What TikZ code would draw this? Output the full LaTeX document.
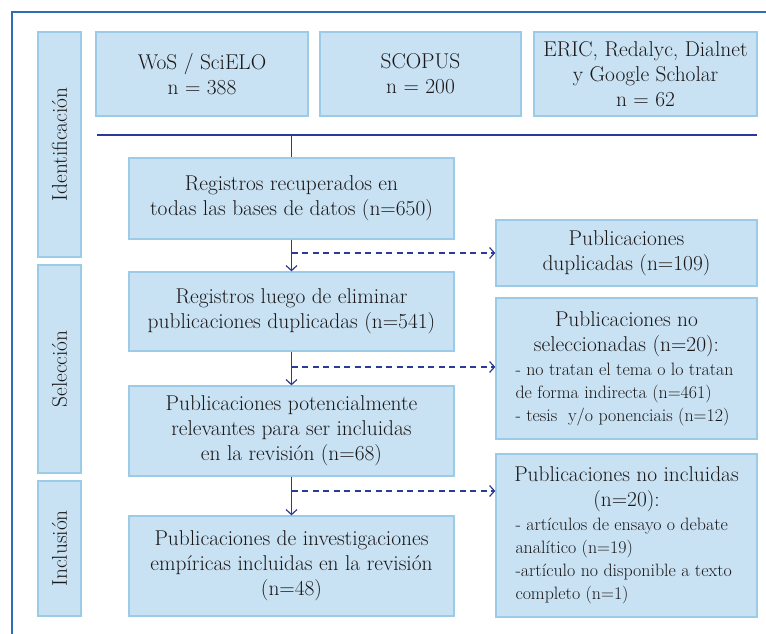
\documentclass[tikz,border=0pt]{standalone}
\usepackage{fontspec}
\usetikzlibrary{arrows.meta}
\definecolor{boxfill}{HTML}{C9E2F3}
\definecolor{boxline}{HTML}{9CCBE7}
\definecolor{conn}{HTML}{2B3A9A}
\definecolor{framec}{HTML}{2F6DB5}
\definecolor{txt}{HTML}{1A1718}
\newcommand{\bigf}{\fontsize{21.4}{25}\selectfont}
\newcommand{\smallf}{\fontsize{17.9}{23}\selectfont}
\begin{document}
\begin{tikzpicture}[x=1pt,y=-1pt,
  box/.style={draw=boxline, fill=boxfill, line width=1.3pt, inner sep=0pt, align=center, font=\bigf, text=txt},
  phase/.style={box, rotate=90},
  solidconn/.style={draw=conn, line width=1.3pt},
  arr/.style={solidconn, -{Straight Barb[length=5pt,width=11pt,line width=1.2pt]}},
  darr/.style={arr, dash pattern=on 6pt off 4.5pt}]
\useasboundingbox (0,0) rectangle (766,634);
\draw[framec, line width=1.6pt] (766,12) -- (12,12) -- (12,634);
% phases
\node[phase, minimum width=225pt, minimum height=43pt] (ph1) at (59.5,144.5) {Identificación};
\node[phase, minimum width=208pt, minimum height=43pt] (ph2) at (59.5,369) {Selección};
\node[phase, minimum width=135pt, minimum height=43pt] (ph3) at (59.5,548.5) {Inclusión};
% sources
\node[box, minimum width=212pt, minimum height=84pt] (wos) at (202,74) {WoS / SciELO\\n = 388};
\node[box, minimum width=201pt, minimum height=84pt] (scopus) at (420.5,74) {SCOPUS\\n = 200};
\node[box, minimum width=223pt, minimum height=84pt] (eric) at (645.5,74) {ERIC, Redalyc, Dialnet\\y Google Scholar\\n = 62};
% main column
\node[box, minimum width=325pt, minimum height=81pt] (r1) at (291.5,198.5) {Registros recuperados en\\todas las bases de datos (n=650)};
\node[box, minimum width=325pt, minimum height=79pt] (r2) at (291.5,311.5) {Registros luego de eliminar\\publicaciones duplicadas (n=541)};
\node[box, minimum width=325pt, minimum height=90pt] (r3) at (291.5,431) {Publicaciones potencialmente\\relevantes para ser incluidas\\en la revisión (n=68)};
\node[box, minimum width=325pt, minimum height=100pt] (r4) at (291.5,566) {Publicaciones de investigaciones\\empíricas incluidas en la revisión\\(n=48)};
% side column
\node[box, minimum width=261pt, minimum height=66pt] (dup) at (626.5,253) {Publicaciones\\duplicadas (n=109)};
\node[box, minimum width=261pt, minimum height=141pt] (nosel) at (626.5,368.5) {\begin{minipage}{246pt}\centering\bigf Publicaciones no\\seleccionadas (n=20):\par\vspace{1pt}\raggedright\leftskip=12pt\smallf - no tratan el tema o lo tratan\\de forma indirecta (n=461)\\- tesis\ \ y/o ponenciais (n=12)\par\end{minipage}};
\node[box, minimum width=261pt, minimum height=163pt] (noinc) at (626.5,535.5) {\begin{minipage}{246pt}\centering\bigf Publicaciones no incluidas\\(n=20):\par\vspace{1pt}\raggedright\leftskip=12pt\smallf - artículos de ensayo o debate\\analítico (n=19)\\-artículo no disponible a texto\\completo (n=1)\par\end{minipage}};
% connectors
\coordinate (hl) at (97,135);
\coordinate (hr) at (757,135);
\coordinate (hm) at (r1.north |- hl);
\draw[solidconn] (hl) -- (hr);
\draw[solidconn] (hm) -- (r1.north);
\draw[arr] (r1.south) -- (r2.north);
\draw[arr] (r2.south) -- (r3.north);
\draw[arr] (r3.south) -- (r4.north);
\coordinate (d1) at (291.5,253);
\coordinate (d2) at (291.5,367);
\coordinate (d3) at (291.5,491);
\draw[darr] (d1) -- (dup.west |- d1);
\draw[darr] (d2) -- (nosel.west |- d2);
\draw[darr] (d3) -- (noinc.west |- d3);
\end{tikzpicture}
\end{document}
